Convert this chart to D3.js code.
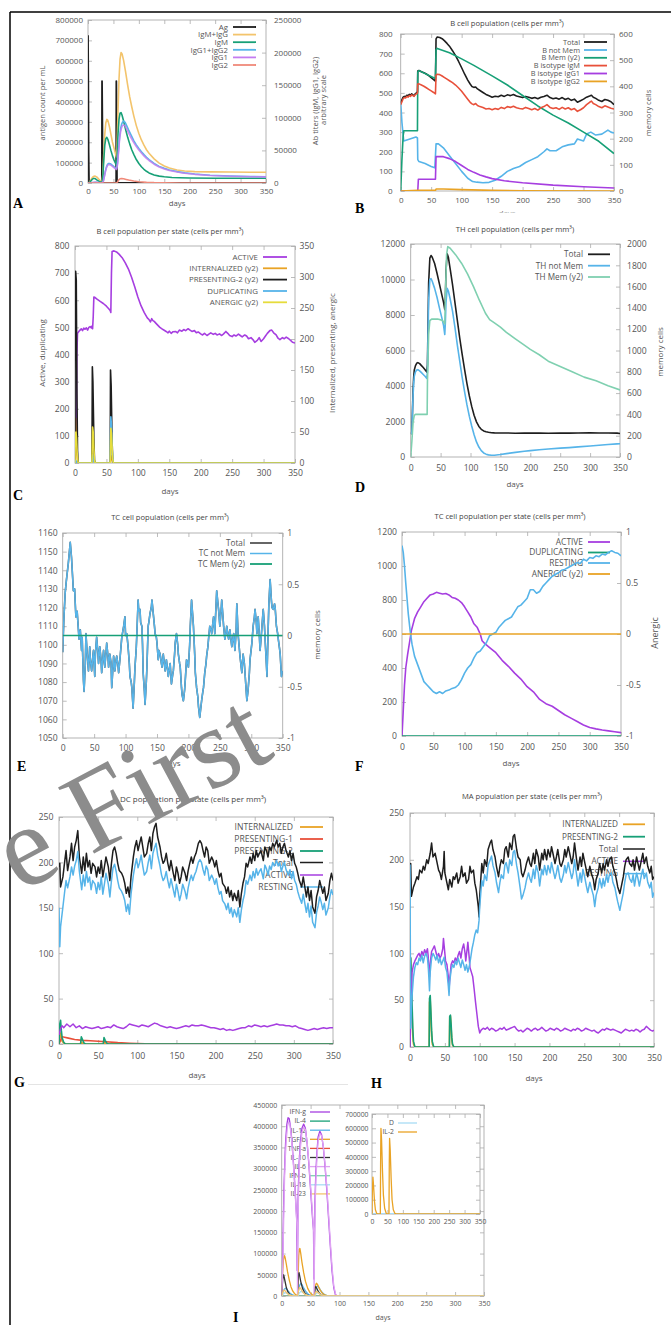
<!DOCTYPE html>
<html><head><meta charset="utf-8">
<script src="https://cdn.jsdelivr.net/npm/d3@7"></script>
<style>body{margin:0;background:#fff}</style>
</head><body><svg id="fig" width="671" height="1325" xmlns="http://www.w3.org/2000/svg"></svg>
<script>
// ================= DATA =================
const xTicks = [0,50,100,150,200,250,300,350];

// ---- A : antigen & antibodies ----
const aAg = [[0,725000],[0.6,500000],[1.2,150000],[2,0],[27.3,0],[27.6,500000],[28.3,280000],[29,0],[55.4,0],[55.7,500000],[56.4,280000],[57,0],[350,0]];
const aIgMIgG = [[0,0],[3,800],[6,5000],[9,8800],[12,10300],[14,10600],[17,9300],[20,7000],[23,4500],[26,2600],[27.5,2200],[29,12000],[31,45000],[33,75000],[35,92000],[37,97500],[39,96000],[42,87000],[45,75000],[48,63000],[51,54000],[54,45000],[56,40000],[57,55000],[59,110000],[61,160000],[63,190000],[65,200000],[67,198000],[70,188000],[74,170000],[78,150000],[82,132000],[86,117000],[90,103000],[95,88000],[100,76000],[105,66000],[110,58000],[115,51000],[120,45500],[130,37000],[140,30500],[150,26000],[160,23000],[175,20000],[190,18500],[210,17500],[240,17000],[280,16800],[320,16600],[350,16500]];
const aIgM = [[0,0],[4,1500],[8,5500],[11,7000],[14,6800],[18,4500],[22,2500],[26,1200],[27.5,1000],[29,8000],[31,35000],[33,58000],[35,68000],[37,70000],[39,67000],[42,59000],[45,50000],[48,42000],[51,35500],[54,30500],[56,28000],[57,38000],[59,75000],[61,98000],[63,107000],[65,108000],[67,104000],[70,95000],[74,82000],[78,70000],[82,60000],[86,51000],[90,44000],[95,36000],[100,30000],[105,25000],[110,21000],[115,18000],[120,15500],[130,12300],[140,10500],[150,9500],[165,8500],[180,8000],[200,7600],[250,7300],[300,7200],[350,7200]];
const aIgG12 = [[0,0],[6,300],[10,800],[14,1200],[18,900],[24,400],[27.5,300],[30,2500],[32,10000],[34,18000],[36,24000],[38,28000],[40,29800],[42,30000],[45,29000],[48,27000],[51,25000],[54,23000],[56,22000],[58,30000],[60,50000],[62,70000],[64,83000],[66,90000],[68,93500],[70,95000],[73,93000],[76,88000],[80,81000],[85,73000],[90,65000],[95,58500],[100,53000],[105,48000],[110,43500],[115,39500],[120,36000],[130,30000],[140,25500],[150,22500],[160,20000],[175,17500],[190,15500],[210,13800],[240,12000],[280,10800],[320,10000],[350,9700]];
const aIgG1 = [[0,0],[6,250],[10,700],[14,1000],[18,800],[24,350],[27.5,250],[30,2200],[32,9000],[34,16500],[36,22500],[38,26500],[40,28000],[42,28200],[45,27300],[48,25500],[51,23500],[54,21600],[56,20700],[58,28000],[60,47000],[62,66000],[64,78000],[66,85000],[68,88000],[70,89000],[73,87500],[76,83000],[80,76500],[85,69000],[90,62000],[95,56000],[100,50500],[105,46000],[110,41500],[115,37800],[120,34500],[130,28800],[140,24500],[150,21600],[160,19200],[175,16800],[190,15000],[210,13300],[240,11600],[280,10400],[320,9700],[350,9400]];
const aIgG2 = [[0,0],[56,0],[58,1500],[60,4500],[63,6500],[66,7000],[70,6500],[75,5500],[80,4500],[90,3000],[100,2000],[115,1000],[130,500],[150,200],[180,50],[220,0],[350,0]];

// ---- B : B cell population ----
const bTotal = [[0,450],[2,465],[4,478],[6,482],[8,480],[10,488],[12,485],[14,492],[16,488],[18,495],[20,490],[22,485],[24,496],[26,500],[27.5,505],[28,612],[30,614],[34,608],[38,603],[42,596],[46,588],[50,578],[54,568],[57,560],[58,775],[60,785],[64,782],[68,776],[72,765],[76,752],[80,738],[85,715],[90,690],[95,660],[100,628],[105,595],[110,565],[114,545],[117,532],[120,528],[123,530],[126,520],[130,512],[135,502],[140,492],[145,485],[150,478],[155,483],[160,480],[165,488],[170,482],[175,490],[180,486],[185,492],[190,484],[195,480],[200,476],[205,482],[210,478],[215,472],[220,476],[225,470],[230,478],[235,482],[240,488],[245,476],[250,470],[255,474],[260,468],[265,476],[270,466],[275,472],[280,462],[285,468],[290,452],[295,460],[300,468],[305,478],[310,484],[313,488],[316,478],[320,472],[325,462],[330,456],[335,466],[340,462],[345,455],[350,440]];
const bNotMem = [[0,450],[2,350],[5,255],[10,260],[15,265],[20,270],[25,275],[27.5,270],[28,160],[30,150],[40,140],[50,125],[56,118],[58,240],[62,240],[70,220],[80,180],[90,140],[100,100],[110,65],[118,48],[125,45],[135,42],[145,44],[155,55],[165,75],[175,100],[185,115],[195,125],[205,145],[215,160],[225,175],[235,200],[240,215],[245,205],[255,205],[265,225],[275,235],[285,240],[290,265],[300,255],[305,290],[312,300],[320,285],[330,290],[340,310],[345,300],[350,295]];
const bMem = [[0,0],[2,120],[4,210],[5,230],[27.5,230],[28,455],[30,460],[55,432],[57,430],[58,540],[60,545],[80,528],[100,505],[120,480],[150,440],[175,405],[200,365],[225,325],[250,290],[275,260],[300,225],[325,190],[350,143]];
const bIgM = [[0,440],[2,455],[4,470],[6,476],[8,474],[10,482],[12,478],[14,486],[16,482],[18,490],[20,486],[22,482],[24,492],[26,495],[27.5,500],[28,545],[30,546],[34,540],[38,534],[42,526],[46,518],[50,510],[54,502],[57,495],[58,590],[60,595],[64,593],[68,586],[72,578],[76,570],[80,562],[85,552],[90,540],[95,525],[100,508],[105,488],[110,468],[114,452],[117,444],[120,440],[123,446],[126,436],[130,430],[135,425],[140,418],[145,420],[150,414],[155,420],[160,416],[165,426],[170,420],[175,430],[180,426],[185,432],[190,424],[195,420],[200,418],[205,426],[210,420],[215,414],[220,420],[225,412],[230,424],[235,430],[240,440],[245,426],[250,420],[255,424],[260,416],[265,426],[270,418],[275,424],[280,414],[285,420],[290,406],[295,414],[300,424],[305,440],[310,452],[313,458],[316,446],[320,440],[325,430],[330,424],[335,434],[340,428],[345,422],[350,418]];
const bIgG1 = [[0,0],[28,0],[29,60],[57,60],[58,175],[70,175],[80,165],[90,150],[100,130],[110,110],[120,95],[130,82],[140,72],[150,63],[170,52],[200,42],[250,30],[300,22],[350,15]];
const bIgG2 = [[0,0],[28,3],[57,3],[58,10],[70,10],[100,7],[150,3],[200,1],[350,0]];

// ---- C : B cell population per state ----
const cActive = [[0,20],[1,45],[2,120],[3,400],[4,478],[6,485],[8,490],[10,495],[12,488],[14,497],[16,493],[18,498],[20,490],[22,500],[24,503],[26,498],[27,505],[28,495],[29,540],[30,612],[32,610],[35,604],[40,596],[45,588],[50,578],[54,568],[56,562],[57,555],[58,700],[59,780],[62,782],[66,778],[70,770],[75,757],[80,738],[85,715],[90,685],[95,650],[100,612],[105,580],[110,555],[115,535],[118,528],[120,520],[122,532],[124,525],[126,522],[130,512],[135,500],[140,492],[145,485],[148,480],[150,486],[153,478],[156,484],[160,485],[163,480],[166,490],[170,486],[173,492],[176,488],[180,495],[183,490],[186,485],[190,488],[193,480],[196,483],[200,476],[203,472],[206,478],[210,470],[213,475],[216,480],[220,474],[223,478],[226,472],[230,476],[233,470],[236,475],[240,485],[243,478],[246,470],[250,466],[253,472],[256,468],[260,475],[263,470],[266,465],[270,472],[273,468],[276,458],[280,462],[283,455],[286,445],[290,452],[293,462],[296,448],[300,458],[303,468],[306,478],[310,488],[313,490],[316,480],[320,472],[323,460],[326,455],[330,462],[333,458],[336,464],[340,458],[343,452],[346,445],[350,442]];
const cInternalized = [[0,65],[1,72],[2,50],[3,15],[4,0],[27,0],[28,15],[29,10],[31,0],[56,0],[57,12],[58,8],[60,0],[350,0]];
const cPresenting2 = [[0,0],[0.3,300],[1,309],[2,295],[3,120],[4,20],[5,0],[27,0],[27.6,155],[28.5,130],[30,40],[31,5],[32,0],[56,0],[56.5,150],[57.5,125],[59,35],[60,5],[61,0],[350,0]];
const cDuplicating = [[0,0],[1,10],[2,5],[3,0],[27,0],[28,30],[29,15],[31,0],[56,0],[57,170],[58,140],[59,60],[60,15],[61,0],[350,0]];
const cAnergic = [[0,0],[0.5,45],[1.5,50],[2.5,40],[3.5,15],[5,0],[27,0],[28,58],[29,50],[30,25],[31,5],[32,0],[56,0],[57,56],[58,48],[59,25],[60,6],[61,0],[350,0]];

// ---- D : TH cell population ----
const dTotal = [[0,1300],[1,1320],[2,1450],[3,2600],[4,3800],[5,4500],[6,4900],[8,5150],[10,5280],[12,5320],[15,5260],[18,5150],[21,5040],[24,4920],[27,4780],[28,5200],[29,7500],[30,9800],[32,11200],[34,11350],[36,11250],[40,10900],[44,10350],[48,9750],[52,9150],[55,8700],[57,8300],[58,9000],[59,10500],[61,11450],[63,11250],[66,10600],[70,9700],[74,8700],[78,7700],[82,6700],[86,5800],[90,4950],[94,4150],[98,3450],[102,2850],[106,2350],[110,1980],[114,1720],[118,1560],[122,1470],[126,1420],[130,1390],[135,1370],[140,1360],[150,1350],[160,1355],[175,1340],[190,1350],[200,1345],[215,1355],[230,1340],[250,1350],[265,1345],[280,1355],[300,1360],[315,1350],[330,1355],[345,1345],[350,1320]];
const dNotMem = [[0,1300],[1,1320],[2,1420],[3,2450],[4,3500],[5,4150],[6,4550],[8,4800],[10,4900],[12,4920],[15,4850],[18,4750],[21,4650],[24,4550],[27,4430],[28,4800],[29,6800],[30,8800],[32,10000],[34,10050],[36,9900],[40,9500],[44,9000],[48,8400],[52,7850],[55,7400],[57,6900],[58,7600],[59,8700],[61,9500],[63,9350],[66,8900],[70,8200],[74,7300],[78,6300],[82,5400],[86,4500],[90,3700],[94,2950],[98,2300],[102,1750],[106,1250],[110,850],[114,560],[118,360],[122,230],[126,160],[130,120],[135,100],[140,100],[150,140],[160,190],[175,260],[190,320],[200,360],[215,410],[230,450],[250,500],[265,530],[280,570],[300,620],[315,660],[330,700],[345,740],[350,750]];
const dMem = [[0,0],[2,150],[4,330],[6,390],[8,400],[27.5,400],[28,700],[30,1150],[32,1280],[35,1295],[45,1295],[52,1285],[55,1270],[57,1250],[58,1500],[60,1900],[62,1975],[66,1960],[75,1900],[85,1820],[95,1720],[105,1600],[115,1470],[125,1350],[132,1290],[140,1260],[150,1220],[160,1170],[175,1110],[190,1050],[200,1010],[215,960],[230,900],[250,850],[270,800],[290,750],[310,715],[330,670],[350,630]];

// ---- E : TC cell population ----
const eNotMem = [[0,1096],[2,1115],[4,1128],[6,1135],[9,1144],[12,1155],[14,1147],[17,1129],[19,1130],[20,1122],[21,1115],[23,1118],[24,1113],[26,1103],[28,1108],[30,1097],[31,1104],[33,1081],[34,1075],[36,1090],[37,1106],[39,1095],[41,1086],[43,1099],[44,1092],[46,1086],[48,1094],[49,1097],[51,1083],[52,1095],[54,1104],[56,1096],[57,1090],[59,1099],[61,1092],[62,1085],[64,1093],[65,1097],[67,1088],[69,1096],[70,1101],[72,1094],[73,1088],[75,1095],[77,1090],[78,1077],[80,1088],[81,1094],[83,1086],[85,1092],[86,1094],[88,1089],[89,1085],[91,1092],[93,1100],[94,1104],[96,1108],[97,1110],[99,1115],[100,1105],[102,1106],[104,1099],[106,1090],[107,1083],[109,1080],[110,1077],[112,1066],[114,1080],[115,1088],[117,1098],[118,1106],[120,1124],[121,1118],[123,1119],[124,1112],[126,1110],[127,1100],[128,1085],[130,1075],[131,1068],[133,1080],[134,1088],[136,1110],[137,1112],[139,1117],[141,1120],[142,1124],[144,1117],[146,1110],[147,1106],[149,1104],[150,1101],[152,1092],[153,1097],[155,1095],[157,1090],[158,1088],[160,1095],[162,1089],[163,1086],[165,1092],[167,1086],[168,1083],[170,1088],[171,1090],[173,1079],[175,1084],[176,1086],[178,1095],[179,1101],[181,1106],[183,1100],[184,1095],[186,1090],[187,1088],[189,1077],[190,1073],[192,1070],[194,1076],[195,1081],[197,1092],[199,1090],[200,1088],[202,1100],[203,1110],[205,1124],[207,1115],[208,1110],[210,1095],[211,1085],[213,1077],[215,1072],[216,1067],[218,1061],[219,1064],[221,1070],[223,1075],[224,1077],[226,1085],[228,1090],[229,1094],[231,1099],[232,1103],[234,1110],[236,1108],[237,1106],[239,1112],[240,1115],[242,1106],[243,1114],[245,1129],[247,1122],[248,1119],[250,1110],[252,1118],[253,1124],[255,1115],[256,1110],[258,1103],[260,1107],[261,1110],[263,1105],[264,1103],[266,1108],[268,1102],[269,1099],[271,1104],[272,1106],[274,1097],[276,1108],[277,1122],[279,1106],[281,1098],[282,1094],[284,1088],[285,1085],[287,1095],[289,1090],[290,1085],[292,1075],[293,1070],[295,1076],[297,1085],[298,1092],[300,1098],[301,1101],[303,1110],[305,1115],[306,1119],[308,1112],[309,1106],[311,1115],[313,1104],[314,1097],[316,1105],[317,1110],[319,1119],[321,1110],[322,1103],[324,1090],[325,1083],[327,1110],[328,1122],[330,1135],[332,1124],[333,1120],[335,1119],[337,1122],[338,1120],[340,1110],[342,1106],[343,1103],[345,1098],[346,1095],[348,1083],[350,1086]];
const eTotal = eNotMem; // TC Mem is zero, so the total coincides with "not Mem"
const eMem = [[0,0],[350,0]];

// ---- F : TC cell population per state ----
const fActive = [[0,0],[2,150],[4,300],[6,400],[9,480],[12,550],[15,620],[20,690],[25,730],[30,760],[35,790],[40,810],[45,830],[50,835],[55,845],[60,840],[65,835],[70,838],[75,830],[80,815],[85,810],[90,800],[95,785],[100,760],[105,730],[110,700],[115,660],[120,640],[125,600],[128,560],[132,545],[140,520],[150,490],[160,445],[170,410],[180,370],[190,335],[200,290],[210,260],[220,215],[230,190],[240,175],[250,150],[260,125],[270,105],[280,85],[290,65],[300,50],[310,42],[320,35],[330,30],[340,25],[350,20]];
const fDuplicating = [[0,0],[350,0]];
const fResting = [[0,1120],[2,1080],[4,1000],[6,900],[8,810],[10,720],[13,620],[16,540],[20,470],[25,420],[30,370],[35,320],[40,300],[45,280],[50,260],[55,250],[60,260],[65,250],[70,265],[75,270],[80,280],[85,285],[90,300],[95,330],[100,370],[105,400],[110,420],[115,460],[120,490],[125,500],[130,525],[135,550],[140,590],[145,600],[150,610],[155,640],[160,660],[165,680],[170,690],[175,700],[180,730],[185,760],[190,770],[195,790],[200,810],[205,860],[210,860],[215,840],[220,850],[225,880],[230,900],[235,920],[240,940],[245,950],[250,960],[255,975],[260,980],[265,990],[270,1000],[275,1010],[280,1020],[285,1015],[290,1040],[295,1030],[300,1050],[305,1045],[310,1060],[315,1055],[320,1070],[325,1065],[330,1080],[335,1090],[340,1080],[345,1075],[350,1060]];
const fAnergic = [[0,0],[350,0]];

// ---- G : DC population per state ----
const gInternalized = [[0,0],[1,9],[2,12],[3,7],[4,3],[6,1],[9,0],[28,0],[29,2],[31,0],[57,0],[58,2],[60,0],[350,0]];
const gPresenting1 = [[0,0],[2,4],[4,8],[7,7.5],[12,6.5],[20,5],[30,4],[40,3.5],[50,3],[60,2.5],[75,1.5],[90,0.8],[110,0.2],[130,0],[350,0]];
const gPresenting2 = [[0,0],[1,22],[2,26],[3,15],[4,7],[6,2],[8,0],[27.5,0],[28.5,8],[30,5],[32,1],[34,0],[56.5,0],[57.5,7],[59,4],[61,1],[63,0],[350,0]];
const gTotal = [[0,195],[1,199],[2,173],[5,184],[7,199],[9,213],[11,191],[14,206],[16,221],[18,202],[20,217],[22,224],[24,235],[26,206],[29,188],[31,206],[33,191],[35,210],[37,195],[39,202],[41,188],[43,199],[46,195],[48,184],[50,195],[52,188],[54,202],[56,184],[58,195],[60,206],[63,195],[65,180],[67,199],[69,213],[71,217],[73,210],[75,199],[77,191],[80,188],[82,184],[84,177],[86,166],[88,173],[90,162],[92,184],[95,206],[97,217],[99,224],[101,213],[103,221],[105,228],[107,217],[109,206],[112,210],[114,221],[116,228],[118,213],[120,232],[122,239],[124,243],[126,228],[129,217],[131,206],[133,199],[135,202],[137,210],[139,199],[141,191],[143,202],[146,188],[148,180],[150,195],[152,188],[154,177],[156,184],[158,195],[161,188],[163,180],[165,191],[167,199],[169,206],[171,199],[173,206],[175,210],[178,221],[180,224],[182,221],[184,213],[186,206],[188,217],[190,213],[192,199],[195,206],[197,202],[199,195],[201,202],[203,191],[205,184],[207,188],[209,177],[212,173],[214,166],[216,173],[218,162],[220,169],[222,158],[224,166],[227,158],[229,169],[231,151],[233,166],[235,177],[237,184],[239,199],[241,195],[244,206],[246,199],[248,210],[250,202],[252,213],[254,206],[256,210],[258,213],[261,202],[263,217],[265,213],[267,206],[269,217],[271,213],[273,221],[275,217],[278,224],[280,217],[282,221],[284,210],[286,217],[288,221],[290,213],[293,206],[295,213],[297,202],[299,210],[301,199],[303,195],[305,188],[307,180],[310,173],[312,184],[314,173],[316,162],[318,173],[320,158],[322,169],[324,151],[327,144],[329,162],[331,169],[333,180],[335,173],[337,166],[339,173],[341,158],[344,166],[346,180],[348,188],[350,180]];
const gActive = [[0,10],[2,17],[4,20],[6,18],[10,22],[14,19],[18,22],[22,18],[26,20],[30,17],[34,19],[38,18],[42,17],[46,18],[50,19],[54,17],[58,18],[62,19],[66,18],[70,21],[74,19],[78,18],[82,17],[86,19],[90,22],[94,21],[98,20],[102,19],[106,21],[110,20],[114,19],[118,21],[122,23],[126,22],[130,20],[134,19],[138,18],[142,19],[146,18],[150,17],[154,18],[158,19],[162,20],[166,19],[170,21],[174,20],[178,20],[182,21],[186,20],[190,19],[194,18],[198,18],[202,17],[206,16],[210,17],[214,15],[218,16],[222,15],[226,16],[230,17],[234,18],[238,18],[242,20],[246,19],[250,21],[254,20],[258,19],[262,20],[266,19],[270,20],[274,21],[278,22],[282,21],[286,21],[290,20],[294,20],[298,19],[302,20],[306,18],[310,17],[314,16],[318,15],[322,16],[326,17],[330,16],[334,17],[338,18],[342,17],[346,18],[350,18]];
const gResting = [[0,150],[1,107],[2,129],[5,151],[7,166],[9,180],[11,172],[14,184],[16,195],[18,186],[20,196],[22,202],[24,212],[26,190],[29,170],[31,186],[33,174],[35,190],[37,178],[39,184],[41,170],[43,180],[46,176],[48,166],[50,178],[52,170],[54,184],[56,165],[58,176],[60,188],[63,176],[65,162],[67,180],[69,194],[71,198],[73,190],[75,180],[77,172],[80,168],[82,164],[84,158],[86,146],[88,154],[90,143],[92,165],[95,186],[97,196],[99,204],[101,194],[103,200],[105,208],[107,196],[109,186],[112,190],[114,200],[116,208],[118,193],[120,210],[122,216],[124,221],[126,208],[129,196],[131,186],[133,180],[135,183],[137,190],[139,180],[141,172],[143,182],[146,170],[148,162],[150,176],[152,168],[154,158],[156,165],[158,176],[161,168],[163,160],[165,172],[167,180],[169,186],[171,180],[173,186],[175,190],[178,200],[180,203],[182,200],[184,192],[186,186],[188,196],[190,192],[192,180],[195,186],[197,182],[199,176],[201,182],[203,172],[205,165],[207,168],[209,158],[212,154],[214,148],[216,155],[218,144],[220,150],[222,140],[224,148],[227,140],[229,150],[231,134],[233,148],[235,158],[237,165],[239,180],[241,176],[244,186],[246,180],[248,190],[250,183],[252,193],[254,186],[256,190],[258,193],[261,182],[263,197],[265,193],[267,186],[269,196],[271,192],[273,200],[275,196],[278,202],[280,196],[282,200],[284,190],[286,196],[288,200],[290,192],[293,186],[295,192],[297,182],[299,190],[301,180],[303,176],[305,168],[307,162],[310,155],[312,165],[314,155],[316,145],[318,155],[320,140],[322,152],[324,134],[327,128],[329,145],[331,152],[333,162],[335,156],[337,148],[339,155],[341,142],[344,150],[346,162],[348,170],[350,164]];

// ---- H : MA population per state ----
const hInternalized = [[0,0],[0.5,90],[1,95],[2,70],[3,35],[4,12],[5,3],[7,0],[27.5,0],[28,48],[29,50],[30,30],[31,12],[32,3],[34,0],[56.5,0],[57,32],[58,33],[59,20],[60,7],[61,2],[63,0],[350,0]];
const hPresenting2 = [[0,0],[0.5,96],[1,95],[2,75],[3,45],[4,20],[5,6],[7,0],[27.5,0],[28,52],[29,55],[30,38],[31,18],[32,6],[34,0],[56.5,0],[57,33],[58,34],[59,24],[60,10],[61,3],[63,0],[350,0]];
const hTotal = [[0,195],[1,196],[2,161],[5,171],[7,175],[10,182],[12,179],[14,189],[17,186],[19,193],[21,189],[24,200],[26,196],[29,207],[31,218],[33,203],[36,207],[38,200],[41,189],[43,186],[45,179],[48,193],[49,209],[50,186],[53,175],[55,168],[57,179],[60,171],[62,182],[64,179],[67,186],[69,175],[72,182],[74,193],[76,182],[79,186],[81,175],[84,179],[86,193],[88,186],[91,189],[93,175],[95,168],[98,150],[99,139],[100,161],[103,196],[105,186],[107,200],[110,193],[112,211],[115,218],[117,221],[119,211],[122,203],[124,193],[127,182],[129,193],[131,200],[134,196],[136,211],[138,214],[141,203],[143,218],[146,211],[148,225],[150,227],[153,211],[155,203],[158,200],[160,186],[162,182],[165,189],[167,196],[170,203],[172,196],[174,193],[177,207],[179,196],[181,211],[184,203],[186,189],[189,207],[191,200],[193,211],[196,200],[198,211],[201,203],[203,214],[205,207],[208,196],[210,203],[212,211],[215,196],[217,193],[220,200],[222,211],[224,203],[227,214],[229,207],[232,196],[234,203],[236,218],[239,200],[241,189],[244,203],[246,193],[248,207],[251,196],[253,189],[255,182],[258,193],[260,186],[263,179],[265,168],[267,179],[270,186],[272,196],[275,186],[277,196],[279,189],[282,200],[284,193],[286,200],[289,203],[291,193],[294,186],[296,179],[298,171],[301,164],[303,171],[306,182],[308,193],[310,200],[313,203],[315,196],[318,193],[320,200],[322,189],[325,203],[327,196],[329,189],[332,200],[334,207],[336,196],[339,203],[341,193],[344,186],[346,193],[348,179],[350,182]];
const hActive = [[0,0],[1,30],[2,60],[3,80],[5,88],[7,92],[9,95],[11,98],[13,100],[15,96],[17,102],[19,98],[21,104],[23,100],[25,105],[26,98],[27,82],[28,75],[29,90],[31,102],[33,105],[35,108],[37,102],[39,96],[41,100],[43,95],[45,98],[47,105],[48,116],[49,108],[51,92],[53,88],[55,75],[56,62],[57,72],[59,88],[61,92],[63,90],[65,95],[67,92],[69,98],[71,102],[73,95],[75,105],[77,110],[79,100],[80,92],[82,105],[83,112],[85,95],[86,85],[88,80],[90,75],[92,62],[94,48],[96,35],[98,22],[100,15],[102,18],[105,20],[108,19],[111,21],[114,18],[117,20],[120,19],[123,17],[126,18],[129,20],[132,19],[135,21],[138,18],[141,19],[144,20],[147,21],[150,22],[153,19],[156,17],[159,18],[162,16],[165,18],[168,20],[171,19],[174,17],[177,19],[180,20],[183,18],[186,19],[189,21],[192,19],[195,17],[198,18],[201,20],[204,19],[207,18],[210,20],[213,19],[216,17],[219,18],[222,20],[225,19],[228,18],[231,17],[234,19],[237,18],[240,20],[243,19],[246,17],[249,18],[252,20],[255,19],[258,18],[261,17],[264,18],[267,16],[270,15],[273,17],[276,19],[279,18],[282,20],[285,19],[288,18],[291,19],[294,18],[297,17],[300,16],[303,15],[306,17],[309,19],[312,18],[315,17],[318,18],[321,17],[324,19],[327,18],[330,16],[333,18],[336,19],[339,22],[342,20],[345,18],[348,17],[350,18]];
const hResting = [[0,195],[0.5,100],[1,20],[2,40],[3,55],[5,75],[7,85],[9,90],[11,88],[13,95],[15,92],[17,98],[19,90],[21,97],[23,100],[25,95],[26,88],[27,75],[28,60],[29,80],[31,95],[33,100],[35,97],[37,93],[39,98],[41,90],[43,95],[45,88],[47,92],[49,96],[51,85],[53,80],[55,65],[56,55],[57,70],[59,82],[61,88],[63,85],[65,92],[67,88],[69,95],[71,90],[73,85],[75,93],[77,88],[79,82],[81,88],[83,80],[85,86],[87,95],[89,105],[91,112],[93,120],[95,125],[97,122],[98,128],[99,135],[100,150],[103,178],[105,172],[107,184],[110,178],[112,194],[115,200],[117,204],[119,194],[122,186],[124,176],[127,165],[129,176],[131,184],[134,180],[136,194],[138,197],[141,186],[143,200],[146,194],[148,208],[150,210],[153,194],[155,186],[158,170],[160,158],[162,162],[165,170],[167,178],[170,186],[172,180],[174,176],[177,190],[179,180],[181,194],[184,186],[186,172],[189,190],[191,184],[193,194],[196,184],[198,194],[201,186],[203,197],[205,190],[208,180],[210,186],[212,194],[215,180],[217,176],[220,184],[222,194],[224,186],[227,197],[229,190],[232,180],[234,186],[236,200],[239,184],[241,172],[244,186],[246,176],[248,190],[251,180],[253,172],[255,165],[258,176],[260,170],[263,162],[265,150],[267,162],[270,170],[272,180],[275,170],[277,180],[279,172],[282,184],[284,176],[286,184],[289,186],[291,176],[294,170],[296,162],[298,155],[301,146],[303,154],[306,165],[308,176],[310,184],[313,186],[315,180],[318,176],[320,184],[322,172],[325,186],[327,180],[329,172],[332,184],[334,190],[336,180],[339,186],[341,176],[344,170],[346,176],[348,160],[350,165]];

// ---- I : cytokines ----
const iIFNg = [[0,0],[1,50000],[2,110000],[3,190000],[4,260000],[5,300000],[6,340000],[7,370000],[9,405000],[11,420000],[13,418000],[15,400000],[17,375000],[19,340000],[21,300000],[23,255000],[25,205000],[26,180000],[26.8,60000],[27.5,120000],[28.5,240000],[30,310000],[32,360000],[35,395000],[38,405000],[41,395000],[44,360000],[47,310000],[50,250000],[53,190000],[55,155000],[55.8,40000],[56.5,110000],[57.5,220000],[59,290000],[61,340000],[63,375000],[66,388000],[69,380000],[72,350000],[75,305000],[78,250000],[81,185000],[84,120000],[87,60000],[90,20000],[93,3000],[96,0],[350,0]];
const iIL4 = [[0,0],[350,0]];
const iIL12 = [[0,0],[2,8000],[4,15000],[6,18000],[8,17000],[11,12000],[14,7000],[18,3000],[22,1000],[27.5,0],[29,12000],[31,25000],[33,30000],[35,27000],[38,19000],[42,10000],[46,4000],[51,1000],[56.5,0],[58,10000],[60,20000],[62,24000],[64,21000],[67,14000],[71,7000],[75,2500],[80,500],[86,0],[350,0]];
const iTGFb = [[0,0],[1,30000],[2,65000],[3,85000],[4,93000],[5,95000],[6,90000],[8,75000],[10,58000],[13,38000],[16,22000],[19,12000],[22,6000],[25,2500],[27.5,1000],[28.5,50000],[29.5,95000],[30.5,110000],[31.5,112000],[33,100000],[35,80000],[38,55000],[41,35000],[45,18000],[49,8000],[53,3000],[56.5,1000],[57.5,15000],[58.5,25000],[60,30000],[62,27000],[64,21000],[67,13000],[70,7000],[74,2500],[80,500],[90,0],[350,0]];
const iTNFa = [[0,0],[350,0]];
const iIL10 = [[0,0],[1,25000],[2,42000],[3,50000],[4,46000],[6,33000],[8,20000],[11,9000],[14,3500],[18,1000],[22,0],[27.5,0],[28.3,35000],[29,52000],[30,55000],[31,48000],[33,34000],[36,18000],[40,7000],[45,2000],[50,0],[56.5,0],[57.2,15000],[58,21000],[59,22000],[61,17000],[64,9000],[68,3000],[73,500],[80,0],[350,0]];
const iIL6 = [[0,0],[1,30000],[2,80000],[3,150000],[4,220000],[5,280000],[6,320000],[8,370000],[10,400000],[12,410000],[14,405000],[16,385000],[18,355000],[20,315000],[22,270000],[24,225000],[26,175000],[27,140000],[27.3,0],[27.6,80000],[28.5,200000],[30,290000],[32,345000],[35,385000],[38,398000],[41,392000],[44,362000],[47,315000],[50,258000],[53,200000],[55.5,150000],[56,0],[56.5,70000],[57.5,190000],[59,270000],[61,325000],[63,365000],[66,382000],[69,378000],[72,352000],[75,310000],[78,258000],[81,195000],[84,130000],[87,70000],[90,25000],[93,5000],[96,0],[350,0]];
const iIFNb = [[0,0],[350,0]];
const iIL18 = [[0,0],[3,5000],[6,8000],[9,6000],[13,3000],[18,800],[23,0],[28,0],[30,6000],[33,11000],[36,9000],[40,4500],[45,1500],[50,0],[57,0],[59,5000],[62,8000],[65,6000],[69,2500],[74,500],[80,0],[350,0]];
const iIL23 = [[0,0],[2,9000],[4,14000],[6,12000],[9,7000],[13,2500],[18,500],[22,0],[27.5,0],[29,12000],[31,20000],[33,17000],[36,10000],[40,4000],[45,1000],[50,0],[56.5,0],[58,7000],[60,11000],[63,8000],[67,3000],[72,500],[78,0],[350,0]];
const insD = [[0,2000],[350,2000]];
const insIL2 = [[0,0],[1,150000],[3,258000],[5,200000],[8,90000],[11,30000],[15,5000],[20,0],[27,0],[28,400000],[29,600000],[31,520000],[34,300000],[37,130000],[41,40000],[46,5000],[52,0],[55,0],[56,350000],[57,530000],[59,450000],[62,250000],[65,100000],[69,30000],[74,5000],[80,0],[350,0]];

// ================= DRAWING =================
const svg = d3.select('#fig');
const defs = svg.append('defs');
const FONT = "'Open Sans','DejaVu Sans',sans-serif";
const COL = {black:'#1e1e1e', purple:'#a63ee0', green:'#17a077', blue:'#56b4e9', orange:'#e9a325',
  yellow:'#e6dc3c', red:'#e8503a', lorange:'#f3c46c', violet:'#c47cf0', salmon:'#f08a7a',
  dblue:'#2a7fc0', lpurple:'#dfa3f3', lgreen:'#7fd0b0', lblue:'#a8dcf5'};
const TICK = '#ababab', TXT = '#555';

function range(a,b,s){ const r=[]; for(let v=a; v<=b+1e-9; v+=s) r.push(+v.toFixed(6)); return r; }

function drawPanel(p){
  const g = svg.append('g');
  const x = d3.scaleLinear().domain([0,350]).range([p.x0,p.x1]);
  const yL = d3.scaleLinear().domain(p.yL).range([p.y1,p.y0]);
  const yR = p.yR ? d3.scaleLinear().domain(p.yR).range([p.y1,p.y0]) : null;
  if (p.bg) g.append('rect').attr('x',p.x0).attr('y',p.y0).attr('width',p.x1-p.x0).attr('height',p.y1-p.y0).attr('fill','#fff');
  const st = sel => { sel.select('.domain').remove();
    sel.selectAll('.tick line').attr('stroke',TICK).attr('stroke-width',0.8);
    sel.selectAll('.tick text').attr('fill',TXT).attr('font-family',FONT).attr('font-size',p.fs); };
  const fmt = d => String(d);
  g.append('g').attr('transform',`translate(0,${p.y1})`).call(d3.axisBottom(x).tickValues(xTicks).tickSize(-4).tickPadding(p.padB).tickFormat(fmt)).call(st);
  g.append('g').attr('transform',`translate(0,${p.y0})`).call(d3.axisTop(x).tickValues(xTicks).tickSize(-4).tickFormat('')).call(st);
  g.append('g').attr('transform',`translate(${p.x0},0)`).call(d3.axisLeft(yL).tickValues(p.yLT).tickSize(-4).tickPadding(p.padL).tickFormat(fmt)).call(st);
  if (yR) g.append('g').attr('transform',`translate(${p.x1},0)`).call(d3.axisRight(yR).tickValues(p.yRT).tickSize(-4).tickPadding(p.padR).tickFormat(fmt)).call(st);
  else g.append('g').attr('transform',`translate(${p.x1},0)`).call(d3.axisRight(yL).tickValues(p.yLT).tickSize(-4).tickFormat('')).call(st);
  g.append('rect').attr('x',p.x0).attr('y',p.y0).attr('width',p.x1-p.x0).attr('height',p.y1-p.y0)
    .attr('fill','none').attr('stroke',TICK).attr('stroke-width',0.9);
  // legend
  if (p.leg) p.series.forEach((s,i)=>{
    const y = p.leg.rows[i];
    g.append('text').attr('x',p.leg.tx).attr('y',y).attr('dy','0.35em').attr('text-anchor','end')
      .attr('fill',TXT).attr('font-family',FONT).attr('font-size',p.leg.fs).text(s.name);
    g.append('line').attr('x1',p.leg.l0).attr('x2',p.leg.l1).attr('y1',y).attr('y2',y)
      .attr('stroke',s.color).attr('stroke-width',s.lw||1.8);
  });
  // clip + curves
  const cid = 'clip_'+p.id;
  defs.append('clipPath').attr('id',cid).append('rect').attr('x',p.x0).attr('y',p.y0-1).attr('width',p.x1-p.x0).attr('height',p.y1-p.y0+1);
  const cg = g.append('g').attr('clip-path',`url(#${cid})`);
  p.series.forEach(s=>{
    const ys = s.y2 ? yR : yL;
    cg.append('path').datum(s.data)
      .attr('d', d3.line().x(d=>x(d[0])).y(d=>ys(d[1])))
      .attr('fill','none').attr('stroke',s.color).attr('stroke-width',s.lw||1.6)
      .attr('stroke-linejoin','round').attr('opacity',s.op||1);
  });
  // texts
  (p.texts||[]).forEach(t=>{
    const el = g.append('text').attr('fill',t.col||'#444').attr('font-family',t.font||FONT)
      .attr('font-size',t.fs).attr('text-anchor',t.anchor||'middle').text(t.s);
    if (t.bold) el.attr('font-weight','bold');
    if (t.rot) el.attr('transform',`translate(${t.x},${t.y}) rotate(${t.rot})`).attr('dy','0.35em');
    else el.attr('x',t.x).attr('y',t.y);
    if (t.clip) el.attr('clip-path',`url(#${t.clip})`);
  });
  return g;
}
const LETTER = (s,x,y)=>({s,x,y,fs:14,font:"'Liberation Serif','Times New Roman',serif",bold:true,anchor:'start',col:'#000'});
const TITLE = (s,x,y,fs)=>({s,x,y,fs:fs||7.6,col:'#444'});

// outer frame
svg.append('line').attr('x1',10).attr('x2',671).attr('y1',12).attr('y2',12).attr('stroke','#000').attr('stroke-width',1.5);
svg.append('line').attr('x1',10).attr('x2',10).attr('y1',12).attr('y2',1325).attr('stroke','#000').attr('stroke-width',1.5);

// A
drawPanel({id:'A', x0:88, x1:266, y0:20, y1:183, yL:[0,800000], yR:[0,250000],
  yLT:range(0,800000,100000), yRT:range(0,250000,50000), fs:8, padB:5.5, padL:5, padR:8,
  leg:{tx:228, l0:233, l1:256, fs:7.8, rows:[27,34.6,42.2,49.8,57.4,65]},
  series:[
    {name:'Ag', data:aAg, color:COL.black, lw:1.8},
    {name:'IgM+IgG', data:aIgMIgG, color:COL.lorange, y2:true},
    {name:'IgM', data:aIgM, color:COL.green, y2:true},
    {name:'IgG1+IgG2', data:aIgG12, color:COL.blue, y2:true},
    {name:'IgG1', data:aIgG1, color:COL.violet, y2:true, op:0.85},
    {name:'IgG2', data:aIgG2, color:COL.salmon, y2:true}],
  texts:[
    {s:'antigen count per mL', x:42, y:103, rot:-90, fs:7.5, col:'#555'},
    {s:'Ab titers (IgM, IgG1, IgG2)', x:315, y:101, rot:-90, fs:7.5, col:'#555'},
    {s:'arbitrary scale', x:323.5, y:100, rot:-90, fs:7.5, col:'#555'},
    {s:'days', x:177, y:205.5, fs:7.8, col:'#555'},
    LETTER('A',13,208)]});

// B
defs.append('clipPath').attr('id','clipDaysB').append('rect').attr('x',440).attr('y',190).attr('width',140).attr('height',22.5);
drawPanel({id:'B', x0:400.7, x1:614, y0:34, y1:191, yL:[0,800], yR:[0,600],
  yLT:range(0,800,100), yRT:range(0,600,100), fs:8, padB:6, padL:8, padR:5,
  leg:{tx:580, l0:584, l1:607, fs:7.4, rows:[42,50,57.8,65.6,73.5,81.4]},
  series:[
    {name:'Total', data:bTotal, color:COL.black},
    {name:'B not Mem', data:bNotMem, color:COL.blue},
    {name:'B Mem (y2)', data:bMem, color:COL.green, y2:true},
    {name:'B isotype IgM', data:bIgM, color:COL.red},
    {name:'B isotype IgG1', data:bIgG1, color:COL.purple},
    {name:'B isotype IgG2', data:bIgG2, color:COL.orange}],
  texts:[
    TITLE('B cell population (cells per mm³)',507,25.5),
    {s:'memory cells', x:648, y:113, rot:-90, fs:7.5, col:'#555'},
    {s:'days', x:507, y:216, fs:7.8, col:'#555', clip:'clipDaysB'},
    LETTER('B',355,213)]});

// C
drawPanel({id:'C', x0:75, x1:295, y0:246, y1:463, yL:[0,800], yR:[0,350],
  yLT:range(0,800,100), yRT:range(0,350,50), fs:8.6, padB:7, padL:5.5, padR:4.5,
  leg:{tx:258, l0:263, l1:287, fs:7.9, rows:[257,268.3,279.6,291,302.3]},
  series:[
    {name:'ACTIVE', data:cActive, color:COL.purple},
    {name:'INTERNALIZED (y2)', data:cInternalized, color:COL.orange, y2:true},
    {name:'PRESENTING-2 (y2)', data:cPresenting2, color:COL.black, y2:true},
    {name:'DUPLICATING', data:cDuplicating, color:COL.blue},
    {name:'ANERGIC (y2)', data:cAnergic, color:COL.yellow, y2:true}],
  texts:[
    TITLE('B cell population  per state (cells per mm³)',170,233.5),
    {s:'Active, duplicating', x:42, y:353, rot:-90, fs:8, col:'#555'},
    {s:'Internalized, presenting, anergic', x:332, y:353, rot:-90, fs:8, col:'#555'},
    {s:'days', x:170, y:494, fs:8, col:'#555'},
    LETTER('C',13,500)]});

// D
drawPanel({id:'D', x0:410.7, x1:620, y0:244, y1:457, yL:[0,12000], yR:[0,2000],
  yLT:range(0,12000,2000), yRT:range(0,2000,200), fs:8.6, padB:8, padL:5.5, padR:7,
  leg:{tx:583, l0:588, l1:610, fs:8.2, rows:[254.3,265.7,277]},
  series:[
    {name:'Total', data:dTotal, color:COL.black},
    {name:'TH not Mem', data:dNotMem, color:COL.blue},
    {name:'TH Mem (y2)', data:dMem, color:COL.lgreen, y2:true}],
  texts:[
    TITLE('TH cell population (cells per mm³)',515,232),
    {s:'memory cells', x:660, y:352, rot:-90, fs:8, col:'#555'},
    {s:'days', x:515, y:487, fs:8, col:'#555'},
    LETTER('D',355,492)]});

// E
drawPanel({id:'E', x0:62.7, x1:282.7, y0:533, y1:738, yL:[1050,1160], yR:[-1,1],
  yLT:range(1050,1160,10), yRT:[-1,-0.5,0,0.5,1], fs:8.6, padB:7, padL:5, padR:4.5,
  leg:{tx:245, l0:250, l1:272, fs:8.2, rows:[543,553.5,564]},
  series:[
    {name:'Total', data:eTotal, color:'#555'},
    {name:'TC not Mem', data:eNotMem, color:COL.blue, lw:1.5},
    {name:'TC Mem (y2)', data:eMem, color:COL.green, y2:true}],
  texts:[
    TITLE('TC cell population (cells per mm³)',170,519.5),
    {s:'memory cells', x:317, y:635, rot:-90, fs:8, col:'#555'},
    {s:'days', x:172, y:766, fs:8, col:'#555'},
    LETTER('E',17,771)]});

// F
drawPanel({id:'F', x0:402, x1:621, y0:532, y1:736, yL:[0,1200], yR:[-1,1],
  yLT:range(0,1200,200), yRT:[-1,-0.5,0,0.5,1], fs:8.6, padB:8, padL:5, padR:5,
  leg:{tx:583, l0:588, l1:610, fs:8.4, rows:[542,552.5,563,574]},
  series:[
    {name:'ACTIVE', data:fActive, color:COL.purple},
    {name:'DUPLICATING', data:fDuplicating, color:COL.green},
    {name:'RESTING', data:fResting, color:COL.blue},
    {name:'ANERGIC (y2)', data:fAnergic, color:COL.orange, y2:true}],
  texts:[
    TITLE('TC cell population per state (cells per mm³)',510,519),
    {s:'Anergic', x:655, y:633, rot:-90, fs:9, col:'#555'},
    {s:'days', x:511, y:766, fs:8, col:'#555'},
    LETTER('F',355,771)]});

// G
drawPanel({id:'G', x0:59, x1:333, y0:817, y1:1044, yL:[0,250],
  yLT:range(0,250,50), fs:8.8, padB:9, padL:5.5,
  leg:{tx:293, l0:300, l1:323, fs:8.6, rows:[827,839,851,862.5,875,887]},
  series:[
    {name:'INTERNALIZED', data:gInternalized, color:COL.orange},
    {name:'PRESENTING-1', data:gPresenting1, color:COL.red},
    {name:'PRESENTING-2', data:gPresenting2, color:COL.green},
    {name:'Total', data:gTotal, color:COL.black, lw:1.5},
    {name:'ACTIVE', data:gActive, color:COL.purple, lw:1.5},
    {name:'RESTING', data:gResting, color:COL.blue, lw:1.5}],
  texts:[
    TITLE('DC population per state (cells per mm³)',193,801.5,8),
    {s:'days', x:197, y:1078, fs:8, col:'#555'},
    LETTER('G',14,1087)]});
svg.append('line').attr('x1',28).attr('x2',348).attr('y1',1084.5).attr('y2',1084.5).attr('stroke','#e4e4e4').attr('stroke-width',1);

// H
drawPanel({id:'H', x0:410, x1:654, y0:813, y1:1047, yL:[0,250],
  yLT:range(0,250,50), fs:8.6, padB:8, padL:6,
  leg:{tx:618, l0:623, l1:645, fs:8.2, rows:[824.3,836.7,849,861.3,873.6]},
  series:[
    {name:'INTERNALIZED', data:hInternalized, color:COL.orange},
    {name:'PRESENTING-2', data:hPresenting2, color:COL.green},
    {name:'Total', data:hTotal, color:COL.black, lw:1.5},
    {name:'ACTIVE', data:hActive, color:COL.purple, lw:1.5},
    {name:'RESTING', data:hResting, color:COL.blue, lw:1.5}],
  texts:[
    TITLE('MA population per state (cells per mm³)',532,798.5),
    {s:'days', x:534, y:1081, fs:8, col:'#555'},
    LETTER('H',371,1088)]});

// I
drawPanel({id:'I', x0:281.7, x1:484, y0:1105, y1:1296, yL:[0,450000],
  yLT:range(0,450000,50000), fs:7, padB:5, padL:4.5,
  leg:{tx:306, l0:310, l1:330, fs:6.8, rows:[1112,1121.1,1130.2,1139.3,1148.4,1157.5,1166.6,1175.7,1184.8,1193.9]},
  series:[
    {name:'IFN-g', data:iIFNg, color:COL.purple, lw:1.3},
    {name:'IL-4', data:iIL4, color:COL.green, lw:1.3},
    {name:'IL-12', data:iIL12, color:COL.blue, lw:1.3},
    {name:'TGF-b', data:iTGFb, color:COL.orange, lw:1.3},
    {name:'TNF-a', data:iTNFa, color:COL.red, lw:1.3},
    {name:'IL-10', data:iIL10, color:'#333', lw:1.3},
    {name:'IL-6', data:iIL6, color:COL.lpurple, lw:1.3},
    {name:'IFN-b', data:iIFNb, color:COL.lgreen, lw:1.3},
    {name:'IL-18', data:iIL18, color:COL.lblue, lw:1.3},
    {name:'IL-23', data:iIL23, color:COL.lorange, lw:1.3}],
  texts:[
    {s:'days', x:383, y:1320, fs:7, col:'#555'},
    LETTER('I',233,1322)]});

// I inset
drawPanel({id:'Iin', x0:372, x1:480, y0:1114, y1:1214, yL:[0,700000], bg:true,
  yLT:range(0,700000,100000), fs:6.8, padB:5, padL:3.5,
  leg:{tx:394, l0:398, l1:417, fs:6.8, rows:[1123,1132]},
  series:[
    {name:'D', data:insD, color:COL.lblue, lw:1.3},
    {name:'IL-2', data:insIL2, color:COL.orange, lw:1.3}]});

// watermark
svg.append('text').attr('transform','translate(20,893) rotate(-28)')
  .attr('font-family',"'Liberation Serif','Times New Roman',serif").attr('font-size',115)
  .attr('fill','#8c8c8c').text('e First');
</script></body></html>
